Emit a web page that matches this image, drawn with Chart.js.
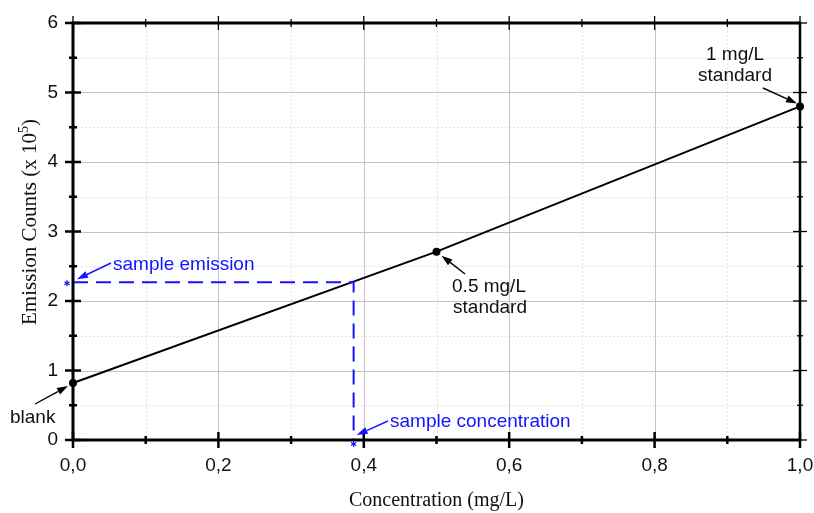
<!DOCTYPE html>
<html>
<head>
<meta charset="utf-8">
<script src="https://cdn.jsdelivr.net/npm/chart.js@4.4.1/dist/chart.umd.min.js"></script>
<style>
  html, body { margin: 0; padding: 0; background: #ffffff; }
  #wrap { width: 814px; height: 513px; }
</style>
</head>
<body>
<div id="wrap"><canvas id="calib" width="814" height="513"></canvas></div>
<script>
// Calibration standards: concentration (mg/L) vs emission counts (x 10^5)
const standardConcentrations = [0.0, 0.5, 1.0];
const standardEmissions = [0.82, 2.71, 4.80];
const standardLabels = ['blank', '0.5 mg/L standard', '1 mg/L standard'];

// Unknown sample
const sampleEmission = 2.27;
const sampleConcentration = 0.386;

// Axis ranges and ticks
const xMajorTicks = [0.0, 0.2, 0.4, 0.6, 0.8, 1.0];
const xMinorTicks = [0.1, 0.3, 0.5, 0.7, 0.9];
const yMajorTicks = [0, 1, 2, 3, 4, 5, 6];
const yMinorTicks = [0.5, 1.5, 2.5, 3.5, 4.5, 5.5];

const SANS = '"Liberation Sans", Arial, sans-serif';
const SERIF = '"Liberation Serif", "Times New Roman", serif';
const BLUE = '#1414ff';

function arrow(ctx, x1, y1, x2, y2, color) {
  const ang = Math.atan2(y2 - y1, x2 - x1);
  const len = 11, half = 3.6;
  const bx = x2 - len * Math.cos(ang), by = y2 - len * Math.sin(ang);
  ctx.save();
  ctx.strokeStyle = color; ctx.fillStyle = color; ctx.lineWidth = 1.4;
  ctx.beginPath(); ctx.moveTo(x1, y1); ctx.lineTo(bx, by); ctx.stroke();
  ctx.beginPath();
  ctx.moveTo(x2, y2);
  ctx.lineTo(bx + half * Math.sin(ang), by - half * Math.cos(ang));
  ctx.lineTo(bx - half * Math.sin(ang), by + half * Math.cos(ang));
  ctx.closePath(); ctx.fill();
  ctx.restore();
}

function asterisk(ctx, cx, cy, r, color) {
  ctx.save();
  ctx.strokeStyle = color; ctx.lineWidth = 1.3;
  for (let i = 0; i < 3; i++) {
    const a = Math.PI / 2 + i * Math.PI / 3;
    ctx.beginPath();
    ctx.moveTo(cx - r * Math.cos(a), cy - r * Math.sin(a));
    ctx.lineTo(cx + r * Math.cos(a), cy + r * Math.sin(a));
    ctx.stroke();
  }
  ctx.restore();
}

// Grid lines behind the data
const gridPlugin = {
  id: 'gridPlugin',
  beforeDatasetsDraw(chart) {
    const { ctx, chartArea: a, scales: { x, y } } = chart;
    ctx.save();
    ctx.lineWidth = 1;
    ctx.strokeStyle = '#e2e2e2';
    ctx.setLineDash([2, 2]);
    xMinorTicks.forEach(v => { const px = Math.round(x.getPixelForValue(v)) + 0.5; ctx.beginPath(); ctx.moveTo(px, a.top); ctx.lineTo(px, a.bottom); ctx.stroke(); });
    yMinorTicks.forEach(v => { const py = Math.round(y.getPixelForValue(v)) + 0.5; ctx.beginPath(); ctx.moveTo(a.left, py); ctx.lineTo(a.right, py); ctx.stroke(); });
    ctx.setLineDash([]);
    ctx.strokeStyle = '#c4c4c4';
    xMajorTicks.forEach(v => { const px = Math.round(x.getPixelForValue(v)) + 0.5; ctx.beginPath(); ctx.moveTo(px, a.top); ctx.lineTo(px, a.bottom); ctx.stroke(); });
    yMajorTicks.forEach(v => { const py = Math.round(y.getPixelForValue(v)) + 0.5; ctx.beginPath(); ctx.moveTo(a.left, py); ctx.lineTo(a.right, py); ctx.stroke(); });
    ctx.restore();
  }
};

// Box frame, crossing tick marks, titles and annotations
const framePlugin = {
  id: 'framePlugin',
  afterDatasetsDraw(chart) {
    const { ctx, chartArea: a, scales: { x, y } } = chart;
    ctx.save();
    ctx.strokeStyle = '#000';
    const tick = (x1, y1, x2, y2, w) => { ctx.lineWidth = w; ctx.beginPath(); ctx.moveTo(x1, y1); ctx.lineTo(x2, y2); ctx.stroke(); };
    xMajorTicks.forEach(v => { const px = x.getPixelForValue(v); tick(px, a.bottom - 8, px, a.bottom + 8, 2.5); tick(px, a.top - 7, px, a.top + 7, 1.3); });
    xMinorTicks.forEach(v => { const px = x.getPixelForValue(v); tick(px, a.bottom - 4, px, a.bottom + 4, 2.5); tick(px, a.top - 4, px, a.top + 4, 1.3); });
    yMajorTicks.forEach(v => { const py = y.getPixelForValue(v); tick(a.left - 8, py, a.left + 8, py, 2.5); tick(a.right - 7, py, a.right + 7, py, 1.3); });
    yMinorTicks.forEach(v => { const py = y.getPixelForValue(v); tick(a.left - 4, py, a.left + 4, py, 2.5); tick(a.right - 3, py, a.right + 3, py, 1.3); });
    ctx.lineWidth = 3;
    ctx.beginPath();
    ctx.moveTo(a.left, a.top); ctx.lineTo(a.right, a.top);
    ctx.moveTo(a.left, a.bottom); ctx.lineTo(a.right, a.bottom);
    ctx.moveTo(a.left, a.top - 1.5); ctx.lineTo(a.left, a.bottom + 1.5);
    ctx.stroke();
    ctx.lineWidth = 2.5;
    ctx.beginPath(); ctx.moveTo(a.right, a.top - 1.5); ctx.lineTo(a.right, a.bottom + 1.5); ctx.stroke();
    ctx.restore();
  },
  afterDraw(chart) {
    const { ctx, chartArea: a, scales: { x, y } } = chart;
    ctx.save();
    // axis titles
    ctx.fillStyle = '#111';
    ctx.font = '20px ' + SERIF;
    ctx.textAlign = 'center';
    ctx.textBaseline = 'alphabetic';
    ctx.fillText('Concentration (mg/L)', (a.left + a.right) / 2, 506);

    ctx.save();
    ctx.translate(36, 222);
    ctx.rotate(-Math.PI / 2);
    const main = 'Emission Counts (x 10';
    ctx.font = '21px ' + SERIF;
    const wMain = ctx.measureText(main).width;
    ctx.font = '14px ' + SERIF;
    const wSup = ctx.measureText('5').width;
    ctx.font = '21px ' + SERIF;
    const wClose = ctx.measureText(')').width;
    let sx = -(wMain + wSup + wClose) / 2;
    ctx.textAlign = 'left';
    ctx.fillText(main, sx, 0); sx += wMain;
    ctx.font = '14px ' + SERIF; ctx.fillText('5', sx, -8); sx += wSup;
    ctx.font = '21px ' + SERIF; ctx.fillText(')', sx, 0);
    ctx.restore();

    // point annotations
    const p0 = { x: x.getPixelForValue(standardConcentrations[0]), y: y.getPixelForValue(standardEmissions[0]) };
    const p1 = { x: x.getPixelForValue(standardConcentrations[1]), y: y.getPixelForValue(standardEmissions[1]) };
    const p2 = { x: x.getPixelForValue(standardConcentrations[2]), y: y.getPixelForValue(standardEmissions[2]) };
    ctx.font = '19px ' + SANS;
    ctx.fillStyle = '#111';
    ctx.textAlign = 'left';
    ctx.fillText('blank', 10, 423);
    arrow(ctx, 35, 404, p0.x - 5, p0.y + 3, '#000');

    ctx.textAlign = 'center';
    ctx.fillText('0.5 mg/L', 489, 292);
    ctx.fillText('standard', 490, 313);
    arrow(ctx, 465, 274, p1.x + 5, p1.y + 4, '#000');

    ctx.fillText('1 mg/L', 735, 60);
    ctx.fillText('standard', 735, 81);
    arrow(ctx, 763, 88, p2.x - 3, p2.y - 3, '#000');

    // sample read-outs
    const se = { x: x.getPixelForValue(0), y: y.getPixelForValue(sampleEmission) };
    const sc = { x: x.getPixelForValue(sampleConcentration), y: y.getPixelForValue(0) };
    ctx.fillStyle = BLUE;
    ctx.textAlign = 'left';
    ctx.fillText('sample emission', 113, 270);
    arrow(ctx, 111, 263, se.x + 4, se.y - 3, BLUE);
    asterisk(ctx, se.x - 6, se.y + 1, 3, BLUE);

    ctx.fillText('sample concentration', 390, 427);
    arrow(ctx, 388, 421, sc.x + 3, sc.y - 5, BLUE);
    asterisk(ctx, sc.x, sc.y + 4, 3, BLUE);
    ctx.restore();
  }
};

const commaFmt = v => Number(v).toFixed(1).replace('.', ',');

new Chart(document.getElementById('calib'), {
  type: 'line',
  data: {
    datasets: [
      {
        label: 'sample read-out',
        data: [
          { x: 0, y: sampleEmission },
          { x: sampleConcentration, y: sampleEmission },
          { x: sampleConcentration, y: 0 }
        ],
        borderColor: BLUE,
        borderWidth: 2,
        borderDash: [15, 8],
        pointRadius: 0,
        fill: false,
        tension: 0,
        clip: false
      },
      {
        label: 'calibration',
        data: standardConcentrations.map((c, i) => ({ x: c, y: standardEmissions[i] })),
        borderColor: '#000',
        backgroundColor: '#000',
        borderWidth: 2,
        pointRadius: 4,
        pointBackgroundColor: '#000',
        pointBorderWidth: 0,
        fill: false,
        tension: 0,
        clip: false
      }
    ]
  },
  options: {
    responsive: false,
    animation: false,
    devicePixelRatio: 1,
    layout: { padding: { top: 23, right: 14, left: 0, bottom: 0 } },
    plugins: { legend: { display: false }, tooltip: { enabled: false }, title: { display: false } },
    scales: {
      x: {
        type: 'linear',
        min: 0, max: 1,
        afterFit: s => { s.height = 73; s.paddingLeft = 0; s.paddingRight = 0; s.paddingTop = 0; s.paddingBottom = 0; },
        afterBuildTicks: s => { s.ticks = xMajorTicks.map(v => ({ value: v })); },
        grid: { display: false, drawTicks: false },
        border: { display: false },
        ticks: { callback: commaFmt, font: { family: SANS, size: 19 }, color: '#111', padding: 14, maxRotation: 0, autoSkip: false }
      },
      y: {
        type: 'linear',
        min: 0, max: 6,
        afterFit: s => { s.width = 73; s.paddingLeft = 0; s.paddingRight = 0; s.paddingTop = 0; s.paddingBottom = 0; },
        afterBuildTicks: s => { s.ticks = yMajorTicks.map(v => ({ value: v })); },
        grid: { display: false, drawTicks: false },
        border: { display: false },
        ticks: { font: { family: SANS, size: 19 }, color: '#111', padding: 15, autoSkip: false }
      }
    }
  },
  plugins: [gridPlugin, framePlugin]
});
</script>
</body>
</html>
